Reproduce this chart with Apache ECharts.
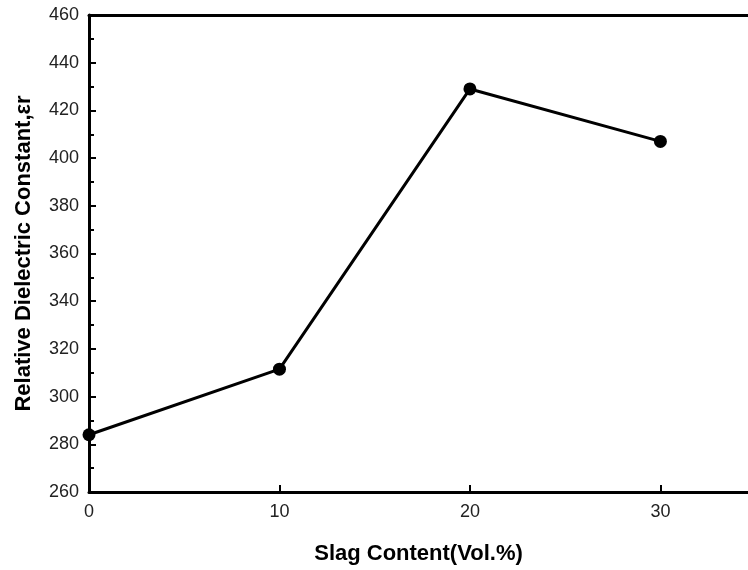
<!DOCTYPE html>
<html><head><meta charset="utf-8">
<script src="https://cdn.jsdelivr.net/npm/echarts@6/dist/echarts.min.js"></script>
<style>html,body{margin:0;padding:0;background:#fff}#c{width:748px;height:570px}</style>
</head><body><div id="c"></div>
<script>
const xValues = [0, 10, 20, 30];
const yValues = [284, 311.5, 429, 407];
const xTicks = [0, 10, 20, 30];
const yTicks = [260, 280, 300, 320, 340, 360, 380, 400, 420, 440, 460];

const chart = echarts.init(document.getElementById('c'));
const font = 'Liberation Sans, Arial, sans-serif';
chart.setOption({
  animation: false,
  grid: {left: 89, top: 15, right: 0, bottom: 76},
  xAxis: [{
    type: 'value', min: 0, max: 34.6, interval: 10,
    name: 'Slag Content(Vol.%)', nameLocation: 'middle', nameGap: 51,
    nameTextStyle: {fontFamily: font, fontWeight: 'bold', fontSize: 22, color: '#000'},
    axisLine: {show: true, lineStyle: {color: '#000', width: 3}},
    axisTick: {show: true, inside: true, length: 7, lineStyle: {color: '#000', width: 2}},
    axisLabel: {fontFamily: font, fontSize: 18, color: '#222', margin: 11, showMaxLabel: false,
      formatter: v => xTicks.includes(v) ? String(v) : ''},
    splitLine: {show: false}
  }, {
    type: 'value', position: 'top', min: 0, max: 34.6,
    axisLine: {show: true, lineStyle: {color: '#000', width: 3}},
    axisTick: {show: false}, axisLabel: {show: false}, splitLine: {show: false}
  }],
  yAxis: {
    type: 'value', min: 260, max: 460, interval: 20,
    name: 'Relative Dielectric Constant,εr', nameLocation: 'middle', nameGap: 54,
    nameTextStyle: {fontFamily: font, fontWeight: 'bold', fontSize: 22, color: '#000'},
    axisLine: {show: true, lineStyle: {color: '#000', width: 3}},
    axisTick: {show: true, inside: true, length: 7, lineStyle: {color: '#000', width: 2}},
    minorTick: {show: true, splitNumber: 2, length: 5, lineStyle: {color: '#000', width: 2}},
    axisLabel: {fontFamily: font, fontSize: 18, color: '#222', margin: 10,
      formatter: v => yTicks.includes(v) ? String(v) : ''},
    splitLine: {show: false}
  },
  series: [{
    type: 'line',
    data: xValues.map((x, i) => [x, yValues[i]]),
    symbol: 'circle', symbolSize: 13,
    itemStyle: {color: '#000'},
    lineStyle: {color: '#000', width: 3},
    clip: false
  }]
});
</script></body></html>
